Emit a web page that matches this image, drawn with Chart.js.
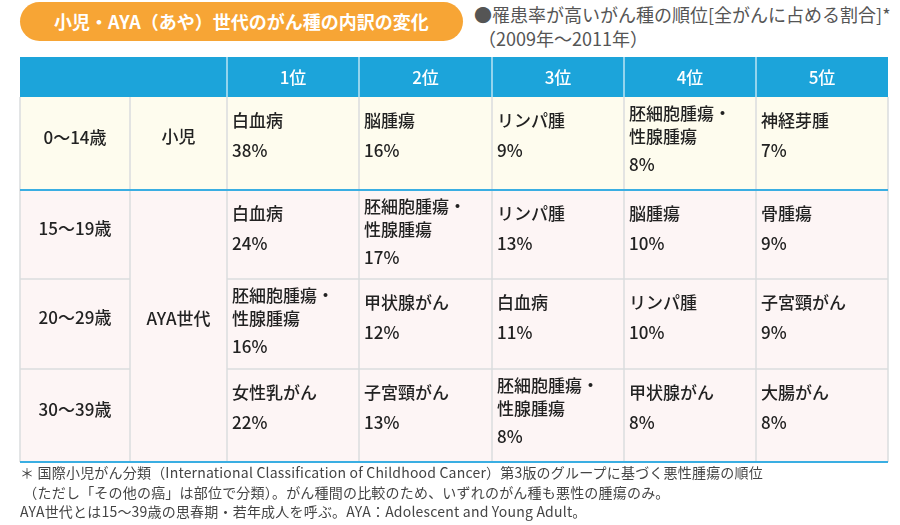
<!DOCTYPE html>
<html lang="ja">
<head>
<meta charset="utf-8">
<script src="https://cdn.jsdelivr.net/npm/chart.js@4.4.1/dist/chart.umd.min.js"></script>
<style>
    html, body { margin: 0; padding: 0; background: #fff; }
    body {
        width: 900px; height: 525px; position: relative; overflow: hidden;
        font-family: "Noto Sans CJK JP", "Noto Sans", sans-serif;
    }
    #table { position: absolute; left: 0; top: 0; }
    .pill {
        position: absolute; left: 20px; top: 2px; width: 443px; height: 39px;
        box-sizing: border-box; padding-left: 34px; border-radius: 20px;
        background: #f7a535; color: #fff; font-weight: bold; font-size: 18px;
        line-height: 39px; white-space: nowrap;
    }
    .period {
        position: absolute; left: 474px; top: 2px; color: #555;
        font-size: 18px; line-height: 24px; white-space: nowrap;
    }
    .notes {
        position: absolute; left: 20px; top: 463px; color: #444;
        font-size: 14px; letter-spacing: 0.2px; line-height: 19.5px; white-space: nowrap;
    }
</style>
</head>
<body>
<div class="pill">小児・AYA（あや）世代のがん種の内訳の変化</div>
<div class="period">●罹患率が高いがん種の順位[全がんに占める割合]*<br>&nbsp;（2009年〜2011年）</div>
<canvas id="table" width="900" height="525"></canvas>
<div class="notes">
    ＊ 国際小児がん分類（International Classification of Childhood Cancer）第3版のグループに基づく悪性腫瘍の順位<br>
    &nbsp;（ただし「その他の癌」は部位で分類）。がん種間の比較のため、いずれのがん種も悪性の腫瘍のみ。<br>
    AYA世代とは15〜39歳の思春期・若年成人を呼ぶ。AYA：Adolescent and Young Adult。
</div>
<script>
// --- Data ---
const rankLabels = ['1位', '2位', '3位', '4位', '5位'];
const ageGroups = ['0〜14歳', '15〜19歳', '20〜29歳', '30〜39歳'];
const generations = ['小児', 'AYA世代'];
const generationSpans = [1, 3]; // age groups per generation

const cancers0to14 = ['白血病', '脳腫瘍', 'リンパ腫', '胚細胞腫瘍・性腺腫瘍', '神経芽腫'];
const shares0to14 = [38, 16, 9, 8, 7];
const cancers15to19 = ['白血病', '胚細胞腫瘍・性腺腫瘍', 'リンパ腫', '脳腫瘍', '骨腫瘍'];
const shares15to19 = [24, 17, 13, 10, 9];
const cancers20to29 = ['胚細胞腫瘍・性腺腫瘍', '甲状腺がん', '白血病', 'リンパ腫', '子宮頸がん'];
const shares20to29 = [16, 12, 11, 10, 9];
const cancers30to39 = ['女性乳がん', '子宮頸がん', '胚細胞腫瘍・性腺腫瘍', '甲状腺がん', '大腸がん'];
const shares30to39 = [22, 13, 8, 8, 8];

const cancerRows = [cancers0to14, cancers15to19, cancers20to29, cancers30to39];
const shareRows = [shares0to14, shares15to19, shares20to29, shares30to39];

// --- Layout (scale units) ---
const colEdges = [0, 110, 207, 339, 472, 604, 736, 868];
const rowEdges = [0, 40, 133, 222, 312, 405];

const colors = {
    header: '#1ca4da',
    child: '#fefcee',
    aya: '#fdf5f5',
    grid: '#dadcde',
    accent: '#3aaee2',
    text: '#222'
};
const FONT = '"Noto Sans CJK JP", "Noto Sans", sans-serif';

function wrapName(ctx, name, maxWidth) {
    if (ctx.measureText(name).width <= maxWidth) return [name];
    const cut = name.indexOf('・');
    if (cut < 0) return [name];
    return [name.slice(0, cut + 1), name.slice(cut + 1)];
}

const tablePlugin = {
    id: 'rankTable',
    beforeDraw(chart) {
        const { ctx, scales: { x, y } } = chart;
        const px = v => x.getPixelForValue(v);
        const py = v => y.getPixelForValue(v);

        const fillCell = (c0, c1, r0, r1, color) => {
            ctx.fillStyle = color;
            ctx.fillRect(px(colEdges[c0]), py(rowEdges[r0]),
                px(colEdges[c1]) - px(colEdges[c0]), py(rowEdges[r1]) - py(rowEdges[r0]));
        };
        const line = (x0, y0, x1, y1, color, w) => {
            ctx.strokeStyle = color;
            ctx.lineWidth = w;
            ctx.beginPath();
            ctx.moveTo(x0, y0);
            ctx.lineTo(x1, y1);
            ctx.stroke();
        };

        ctx.save();
        // backgrounds
        fillCell(0, 7, 0, 1, colors.header);
        fillCell(0, 7, 1, 2, colors.child);
        fillCell(0, 7, 2, 5, colors.aya);

        const top = py(rowEdges[1]);
        const bottom = py(rowEdges[5]);
        // vertical grid lines
        colEdges.forEach((c, i) => {
            const xp = px(c);
            line(xp, top, xp, bottom, colors.grid, 1.5);
            if (i > 1 && i < colEdges.length - 1) {
                line(xp, py(rowEdges[0]), xp, top, 'rgba(255,255,255,0.7)', 1.5);
            }
        });
        // horizontal grid lines inside AYA block (generation column merged)
        [3, 4].forEach(r => {
            const yp = py(rowEdges[r]);
            line(px(colEdges[0]), yp, px(colEdges[1]), yp, colors.grid, 1.5);
            line(px(colEdges[2]), yp, px(colEdges[7]), yp, colors.grid, 1.5);
        });
        // accent lines
        [2, 5].forEach(r => {
            const yp = py(rowEdges[r]);
            line(px(colEdges[0]), yp, px(colEdges[7]), yp, colors.accent, 2);
        });

        ctx.textBaseline = 'middle';
        ctx.font = '500 17px ' + FONT;

        // header
        ctx.fillStyle = '#fff';
        ctx.textAlign = 'center';
        rankLabels.forEach((label, i) => {
            const cx = (px(colEdges[i + 2]) + px(colEdges[i + 3])) / 2;
            ctx.fillText(label, cx, (py(rowEdges[0]) + py(rowEdges[1])) / 2 + 1);
        });

        // age groups and generations
        ctx.fillStyle = colors.text;
        ageGroups.forEach((label, r) => {
            const cy = (py(rowEdges[r + 1]) + py(rowEdges[r + 2])) / 2 - 6;
            ctx.fillText(label, (px(colEdges[0]) + px(colEdges[1])) / 2, cy);
        });
        let start = 1;
        generations.forEach((label, g) => {
            const end = start + generationSpans[g];
            const cy = (py(rowEdges[start]) + py(rowEdges[end])) / 2 - 7;
            ctx.fillText(label, (px(colEdges[1]) + px(colEdges[2])) / 2, cy);
            start = end;
        });

        // ranked cancers
        ctx.textAlign = 'left';
        cancerRows.forEach((names, r) => {
            const rowTop = py(rowEdges[r + 1]);
            names.forEach((name, c) => {
                const left = px(colEdges[c + 2]) + 5;
                const width = px(colEdges[c + 3]) - left - 5;
                const lines = wrapName(ctx, name, width);
                const share = shareRows[r][c] + '%';
                if (lines.length === 1) {
                    ctx.fillText(lines[0], left, rowTop + 24);
                    ctx.fillText(share, left, rowTop + 54);
                } else {
                    ctx.fillText(lines[0], left, rowTop + 17);
                    ctx.fillText(lines[1], left, rowTop + 40);
                    ctx.fillText(share, left, rowTop + 68);
                }
            });
        });
        ctx.restore();
    }
};

new Chart(document.getElementById('table'), {
    type: 'scatter',
    data: { datasets: [] },
    options: {
        responsive: false,
        animation: false,
        devicePixelRatio: 1,
        layout: { padding: { left: 20, right: 12, top: 57, bottom: 63 } },
        plugins: { legend: { display: false }, tooltip: { enabled: false } },
        scales: {
            x: { type: 'linear', display: false, min: colEdges[0], max: colEdges[colEdges.length - 1] },
            y: { type: 'linear', display: false, reverse: true, min: rowEdges[0], max: rowEdges[rowEdges.length - 1] }
        }
    },
    plugins: [tablePlugin]
});
</script>
</body>
</html>
